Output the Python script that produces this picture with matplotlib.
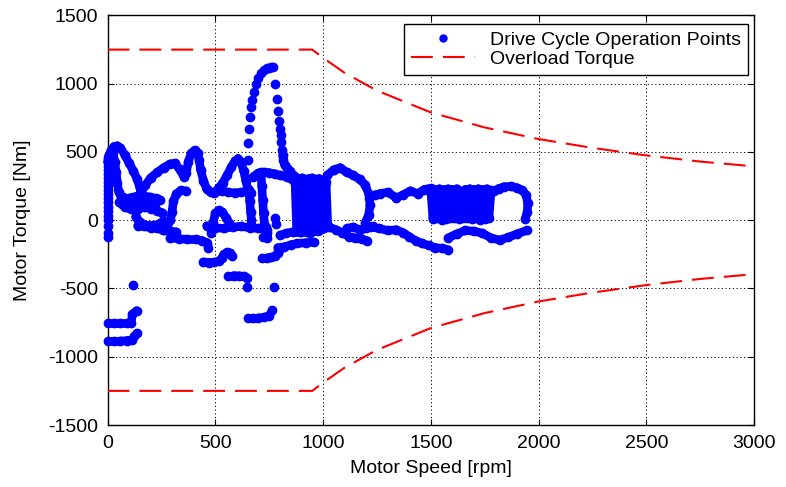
import matplotlib
matplotlib.use("Agg")
import matplotlib.pyplot as plt
from matplotlib.lines import Line2D
from matplotlib.collections import LineCollection

plt.rcParams['font.family'] = ['Liberation Sans', 'DejaVu Sans']
plt.rcParams['axes.unicode_minus'] = False

# overload torque envelope
ol_speed = [0, 950, 1000, 1100, 1250, 1500, 1750, 2000, 2250, 2500, 2750, 3000]
ol_torque = [1250, 1250, 1190, 1080, 950, 790, 680, 595, 530, 475, 430, 395]
ol_torque_neg = [-1250, -1250, -1190, -1080, -950, -790, -680, -595, -530, -475, -430, -395]

# drive cycle operation points, traced as trails of dense dots
col_speed = [0, 0, 0, 0, 0, 0, 0, 0, 0, 0, 0, 0, 0, 0, 0, 0, 0, 0, 0]
col_torque = [460, 430, 400, 370, 340, 310, 280, 250, 220, 190, 160, 130, 100, 65, 30, 0, -40, -90, -120]

a_speed = [0, 8, 18, 30, 45, 60, 80, 100, 120, 138, 150, 158]
a_torque = [430, 480, 515, 540, 545, 530, 480, 420, 360, 300, 240, 180]
b1_speed = [25, 33, 40, 46, 52, 62, 80, 105, 135, 165, 195, 225, 245]
b1_torque = [510, 430, 350, 270, 210, 175, 165, 165, 175, 180, 170, 160, 150]
b2_speed = [55, 80, 110, 140, 170, 200, 230, 255]
b2_torque = [130, 95, 80, 85, 95, 85, 70, 55]
b3_speed = [130, 150, 175, 205, 235, 260]
b3_torque = [25, -15, -35, -40, -30, -5]
b4_speed = [70, 100, 130, 160, 190, 220]
b4_torque = [140, 130, 120, 130, 140, 120]
c_speed = [150, 175, 200, 230, 260, 290, 312, 335, 355, 365, 375, 388, 405, 418, 425, 432,
           445, 460, 478, 495, 515, 535, 555, 575, 592, 606, 620, 632, 642, 650]
c_torque = [190, 255, 310, 350, 385, 412, 418, 372, 318, 345, 430, 490, 512, 490, 440, 370,
            290, 230, 205, 200, 235, 275, 330, 390, 435, 452, 425, 360, 290, 230]
d_speed = [365, 340, 320, 306, 299, 292, 278, 258]
d_torque = [215, 218, 195, 140, 60, 0, -40, -70]
e_speed = [482, 490, 500, 515, 532, 550, 565]
e_torque = [-90, -20, 50, 72, 60, 20, -20]
f_speed = [500, 530, 560, 590, 620, 650, 668]
f_torque = [210, 215, 205, 200, 205, 212, 200]
g1_speed = [655, 660, 664, 668, 672]
g1_torque = [225, 140, 60, 0, -50]
g2_speed = [712, 716, 720, 724, 728]
g2_torque = [350, 250, 150, 50, -30]
h_speed = [676, 700, 725, 750, 775, 800, 833, 860, 885]
h_torque = [320, 345, 352, 348, 340, 330, 315, 295, 270]
sd_speed = [812, 816, 822, 832, 845, 862, 880]
sd_torque = [480, 440, 405, 385, 360, 330, 310]
i_speed = [870, 878, 886, 894, 902, 910, 918, 926, 934, 942, 950, 958, 966, 974, 982,
           990, 998, 1006, 1014, 1022]
i_torque = [300, -80, 305, -85, 310, -80, 300, -85, 305, -80, 310, -75, 300, -70, 305,
            -65, 295, -60, 280, -40]
j_speed = [1020, 1050, 1080, 1110, 1140, 1170, 1195, 1213, 1218, 1212, 1195]
j_torque = [330, 370, 385, 350, 330, 300, 260, 190, 110, 40, -20]
k_speed = [1215, 1240, 1265, 1300, 1340, 1370, 1405, 1440, 1470, 1500]
k_torque = [165, 185, 195, 205, 165, 185, 215, 195, 225, 235]
l_speed = [1500, 1510, 1520, 1530, 1540, 1550, 1560, 1570, 1580, 1590, 1600, 1610, 1620,
           1630, 1640, 1650, 1660, 1670, 1680, 1690, 1700, 1710, 1720, 1730, 1740, 1750,
           1760, 1770, 1780, 1790]
l_torque = [230, 10, 225, 15, 230, 5, 225, 10, 230, 20, 225, 15, 230, 10, 180, 15, 225,
            20, 230, 10, 225, 15, 230, 5, 225, 10, 230, 20, 220, 215]
m_speed = [1795, 1815, 1840, 1870, 1900, 1925, 1942, 1950, 1948, 1938]
m_torque = [215, 232, 245, 248, 238, 220, 185, 125, 60, 10]
n_speed = [1580, 1620, 1660, 1700, 1740, 1780, 1820, 1860, 1900, 1945]
n_torque = [-130, -100, -75, -80, -95, -130, -145, -125, -100, -75]
o_speed = [1220, 1260, 1300, 1340, 1370, 1400, 1430, 1460, 1490, 1520, 1550, 1580]
o_torque = [-50, -60, -75, -70, -90, -120, -150, -170, -185, -200, -205, -215]
p1_speed = [1030, 1060, 1090, 1120, 1150, 1180, 1205]
p1_torque = [-50, -70, -90, -120, -130, -140, -150]
p2_speed = [1110, 1140, 1170, 1200, 1230]
p2_torque = [-60, -50, -70, -55, -45]
q1_speed = [800, 830, 860, 900, 940, 975]
q1_torque = [-110, -95, -85, -85, -90, -80]
q2_speed = [790, 820, 850, 880, 920, 958]
q2_torque = [-200, -195, -180, -170, -165, -160]
r1_speed = [140, 170, 200, 230, 260, 290, 320]
r1_torque = [-40, -45, -55, -60, -75, -80, -85]
r2_speed = [460, 500, 540, 580, 620, 660, 700, 740]
r2_torque = [-40, -55, -60, -50, -45, -55, -60, -70]
r3_speed = [735, 738, 740]
r3_torque = [-50, -95, -130]
s_speed = [290, 330, 370, 410, 440, 462, 468]
s_torque = [-130, -135, -140, -140, -150, -165, -200]
t_speed = [445, 470, 495, 515, 530, 540, 555, 570, 578]
t_torque = [-305, -310, -308, -300, -280, -250, -235, -240, -265]
u_speed = [560, 585, 610, 632, 645]
u_torque = [-405, -405, -408, -410, -420]
v_speed = [718, 740, 760, 778, 790, 795]
v_torque = [-275, -275, -272, -262, -240, -215]
w_speed = [650, 675, 700, 725, 750, 765]
w_torque = [-715, -715, -715, -712, -700, -660]
x1_speed = [0, 30, 60, 90, 110, 115, 135]
x1_torque = [-755, -755, -755, -755, -750, -690, -662]
x2_speed = [0, 30, 60, 90, 115, 125, 137]
x2_torque = [-885, -885, -885, -882, -875, -850, -828]

# sparse single points (spike to ~1100 Nm and a few isolated dots)
spike_speed = [652, 652, 658, 661, 667, 672, 680, 690, 700, 712, 725, 738, 750, 760, 768,
               777, 786, 791, 796, 799, 803, 806, 810]
spike_torque = [440, 565, 668, 755, 828, 880, 940, 1000, 1045, 1080, 1100, 1112, 1118, 1121, 1121,
                998, 888, 800, 728, 668, 622, 572, 515]
iso_speed = [118, 648, 773, 775, 780, 722]
iso_torque = [-476, -490, -490, 15, -25, -125]

trails = [
    (a_speed, a_torque), (b1_speed, b1_torque), (b2_speed, b2_torque), (b3_speed, b3_torque),
    (b4_speed, b4_torque),
    (c_speed, c_torque), (d_speed, d_torque), (e_speed, e_torque), (f_speed, f_torque),
    (g1_speed, g1_torque), (g2_speed, g2_torque), (h_speed, h_torque), (sd_speed, sd_torque),
    (i_speed, i_torque), (j_speed, j_torque), (k_speed, k_torque), (l_speed, l_torque),
    (m_speed, m_torque), (n_speed, n_torque), (o_speed, o_torque), (p1_speed, p1_torque),
    (p2_speed, p2_torque), (q1_speed, q1_torque), (q2_speed, q2_torque), (r1_speed, r1_torque),
    (r2_speed, r2_torque), (r3_speed, r3_torque), (s_speed, s_torque), (t_speed, t_torque),
    (u_speed, u_torque), (v_speed, v_torque), (w_speed, w_torque), (x1_speed, x1_torque),
    (x2_speed, x2_torque),
]

blue = '#0000ff'
red = '#ff0000'
fs = 14

fig = plt.figure(figsize=(7.86, 4.87), dpi=100)
ax = fig.add_axes([0.1368, 0.1273, 0.8225, 0.8409])

# dense trails: each step between neighbouring points stroked on its own,
# as thick as the dots, so back-and-forth runs fill in solid
segs = []
for sx, ty in trails:
    pts = list(zip(sx, ty))
    segs.extend(zip(pts[:-1], pts[1:]))
lc = LineCollection(segs, colors=blue, linewidths=6.2, capstyle='round',
                    joinstyle='round', clip_on=False, zorder=3)
ax.add_collection(lc)
for sx, ty in trails + [(col_speed, col_torque), (spike_speed, spike_torque),
                        (iso_speed, iso_torque)]:
    ax.plot(sx, ty, 'o', color=blue, ms=6, ls='none', clip_on=False, zorder=3)

ax.plot(ol_speed, ol_torque, color=red, lw=1.5, dashes=(10.5, 4.8), zorder=4)
ax.plot(ol_speed, ol_torque_neg, color=red, lw=1.5, dashes=(10.5, 4.8), zorder=4)

ax.set_xlim(0, 3000)
ax.set_ylim(-1500, 1500)
ax.set_xticks([0, 500, 1000, 1500, 2000, 2500, 3000])
ax.set_yticks([-1500, -1000, -500, 0, 500, 1000, 1500])
ax.tick_params(direction='in', top=True, right=True, length=4, width=0.8,
               labelsize=fs, pad=7)
ax.grid(True, color='black', linestyle=(0, (1.2, 2.6)), linewidth=0.7)
ax.set_axisbelow(True)
for sp in ax.spines.values():
    sp.set_linewidth(1.0)

ax.set_xlabel('Motor Speed [rpm]', fontsize=fs, labelpad=6)
ax.set_ylabel('Motor Torque [Nm]', fontsize=fs, labelpad=12)

handles = [
    Line2D([], [], color=blue, marker='o', ms=5, ls='none'),
    Line2D([], [], color=red, lw=1.5, dashes=(10.5, 4.8)),
]
leg = ax.legend(handles, ['Drive Cycle Operation Points', 'Overload Torque'],
                loc='upper right', bbox_to_anchor=(0.991, 0.979), borderaxespad=0,
                fontsize=fs, fancybox=False, framealpha=1, edgecolor='black',
                handlelength=3.3, labelspacing=0.05, borderpad=0.38, handletextpad=0.75)
leg.get_frame().set_linewidth(1.0)

fig.savefig('out.png', dpi=100)
